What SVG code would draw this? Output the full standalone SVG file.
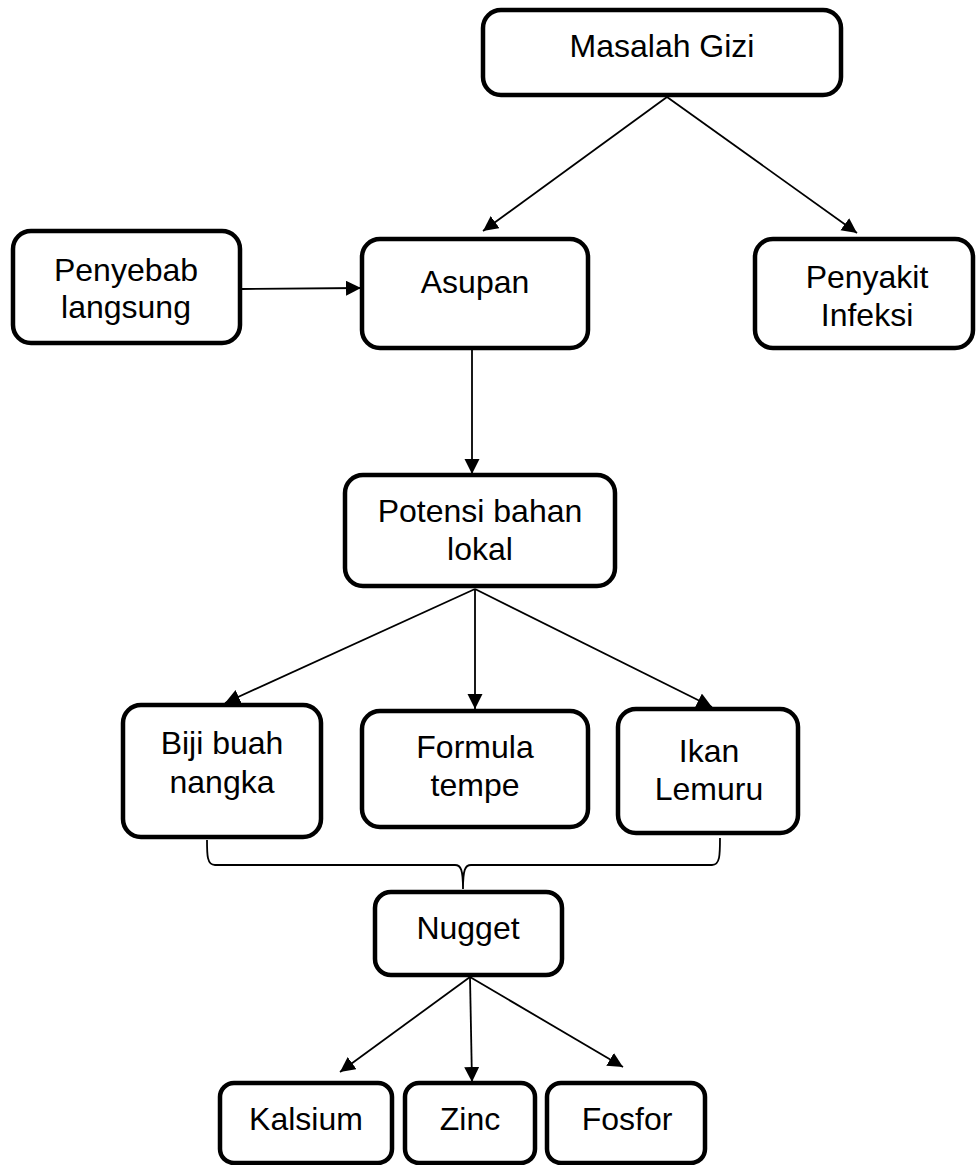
<svg xmlns="http://www.w3.org/2000/svg" width="976" height="1165" viewBox="0 0 976 1165">
<style>
.box{fill:#fff;stroke:#000;stroke-width:4.5}
.lbl{font-family:"Liberation Sans",Arial,sans-serif;font-size:32px;fill:#000;text-anchor:middle}
.con{stroke:#000;stroke-width:1.8;fill:none}
</style>
<defs>
<marker id="ah" markerUnits="userSpaceOnUse" markerWidth="16" markerHeight="16" refX="15" refY="7.5" orient="auto">
<path d="M0,0 L15,7.5 L0,15 z" fill="#000"/>
</marker>
</defs>
<rect width="976" height="1165" fill="#fff"/>
<g id="connectors">
<line class="con" x1="667" y1="97" x2="483" y2="231" marker-end="url(#ah)"/>
<line class="con" x1="667" y1="97" x2="857" y2="233" marker-end="url(#ah)"/>
<line class="con" x1="242" y1="289" x2="361" y2="288" marker-end="url(#ah)"/>
<line class="con" x1="472" y1="350" x2="472" y2="474" marker-end="url(#ah)"/>
<line class="con" x1="475" y1="589" x2="225" y2="703" marker-end="url(#ah)"/>
<line class="con" x1="475" y1="589" x2="475" y2="709" marker-end="url(#ah)"/>
<line class="con" x1="475" y1="589" x2="712" y2="707" marker-end="url(#ah)"/>
<path class="con" d="M207,840 C207,855 207,865 215,865 L455,865 C461,865 463,870 463,889 C463,870 465,865 471,865 L712,865 C720,865 720,855 720,838"/>
<line class="con" x1="470" y1="977" x2="340" y2="1072" marker-end="url(#ah)"/>
<line class="con" x1="470" y1="977" x2="472" y2="1082" marker-end="url(#ah)"/>
<line class="con" x1="470" y1="977" x2="623" y2="1067" marker-end="url(#ah)"/>
</g>
<g id="masalah-gizi">
<rect class="box" x="483" y="10" width="358" height="85" rx="18"/>
<text class="lbl" x="662" y="57">Masalah Gizi</text>
</g>
<g id="penyebab-langsung">
<rect class="box" x="13" y="231" width="227" height="112" rx="18"/>
<text class="lbl" x="126" y="281">Penyebab</text>
<text class="lbl" x="126" y="318">langsung</text>
</g>
<g id="asupan">
<rect class="box" x="362" y="239" width="226" height="109" rx="18"/>
<text class="lbl" x="475" y="293">Asupan</text>
</g>
<g id="penyakit-infeksi">
<rect class="box" x="755" y="239" width="218" height="109" rx="18"/>
<text class="lbl" x="867" y="288">Penyakit</text>
<text class="lbl" x="867" y="326">Infeksi</text>
</g>
<g id="potensi-bahan-lokal">
<rect class="box" x="345" y="475" width="270" height="111" rx="18"/>
<text class="lbl" x="480" y="522">Potensi bahan</text>
<text class="lbl" x="480" y="560">lokal</text>
</g>
<g id="biji-buah-nangka">
<rect class="box" x="123" y="705" width="198" height="132" rx="18"/>
<text class="lbl" x="222" y="754">Biji buah</text>
<text class="lbl" x="222" y="793">nangka</text>
</g>
<g id="formula-tempe">
<rect class="box" x="362" y="711" width="226" height="116" rx="18"/>
<text class="lbl" x="475" y="758">Formula</text>
<text class="lbl" x="475" y="796">tempe</text>
</g>
<g id="ikan-lemuru">
<rect class="box" x="618" y="709" width="180" height="124" rx="18"/>
<text class="lbl" x="709" y="762">Ikan</text>
<text class="lbl" x="709" y="800">Lemuru</text>
</g>
<g id="nugget">
<rect class="box" x="375" y="892" width="187" height="83" rx="16"/>
<text class="lbl" x="468" y="939">Nugget</text>
</g>
<g id="kalsium">
<rect class="box" x="220" y="1083" width="172" height="80" rx="14"/>
<text class="lbl" x="306" y="1130">Kalsium</text>
</g>
<g id="zinc">
<rect class="box" x="405" y="1083" width="130" height="80" rx="14"/>
<text class="lbl" x="470" y="1130">Zinc</text>
</g>
<g id="fosfor">
<rect class="box" x="547" y="1083" width="158" height="80" rx="14"/>
<text class="lbl" x="627" y="1130">Fosfor</text>
</g>
</svg>
